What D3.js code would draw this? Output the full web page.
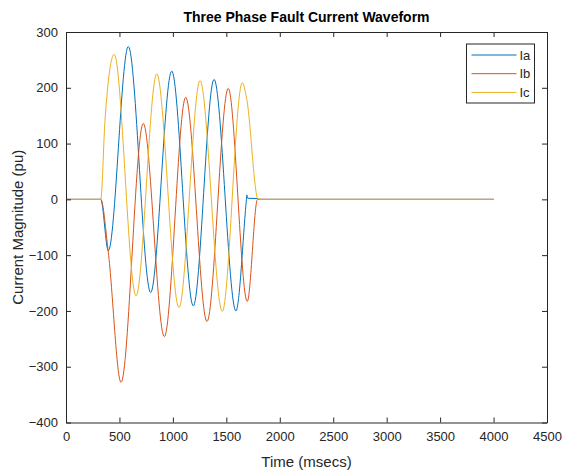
<!DOCTYPE html>
<html>
<head>
<meta charset="utf-8">
<script src="https://cdn.jsdelivr.net/npm/d3@7"></script>
<style>
  html, body { margin: 0; padding: 0; background: #fff; }
  svg { display: block; font-family: "Liberation Sans", Arial, sans-serif; }
</style>
</head>
<body>
<svg id="chart" width="562" height="472"></svg>
<script>
// Readings: [time ms, current pu]
const iaPoints = [[0, 0], [325, 0], [396, -92], [583, 274], [792, -167], [989, 230], [1191, -191],
  [1385, 215], [1590, -200], [1688, 0], [1692, 8], [1700, 2], [1790, 1.5], [1800, 0], [4000, 0]];
const ibPoints = [[0, 0], [325, 0], [396, -95], [515, -328], [723, 136], [920, -246], [1120, 183],
  [1319, -219], [1518, 199], [1696, -183], [1792, 0], [4000, 0]];
const icPoints = [[0, 0], [325, 0], [365, 142], [451, 260], [655, -173], [849, 225], [1057, -194],
  [1254, 213], [1462, -201], [1649, 209], [1690, 181], [1798, 0], [1802, 2], [1810, 0], [4000, 0]];

const seriesNames = ["Ia", "Ib", "Ic"];
const xTicks = [0, 500, 1000, 1500, 2000, 2500, 3000, 3500, 4000, 4500];
const yTicks = [-400, -300, -200, -100, 0, 100, 200, 300];

const colors = ["#0072BD", "#D95319", "#EDB120"];
const W = 562, H = 472;
const m = { top: 32, right: 15, bottom: 49.5, left: 66 };
const iW = W - m.left - m.right;
const iH = H - m.top - m.bottom;
const axisCol = "#262626";

const svg = d3.select("#chart");
const g = svg.append("g").attr("transform", `translate(${m.left},${m.top})`);

const x = d3.scaleLinear().domain([0, 4500]).range([0, iW]);
const y = d3.scaleLinear().domain([-400, 300]).range([iH, 0]);

// Title
svg.append("text")
  .attr("x", m.left + iW / 2).attr("y", 22)
  .attr("text-anchor", "middle")
  .style("font-size", "14px").style("font-weight", "bold").style("fill", "#000")
  .text("Three Phase Fault Current Waveform");

// Lines
const line = d3.line().x(d => x(d[0])).y(d => y(d[1])).curve(d3.curveMonotoneX);
[iaPoints, ibPoints, icPoints].forEach((pts, i) => {
  g.append("path").datum(pts)
    .attr("d", line)
    .attr("fill", "none")
    .attr("stroke", colors[i])
    .attr("stroke-width", 1);
});

// Axes (ticks inward, box on)
const tk = 5;
function styleAxis(ax) {
  ax.select(".domain").attr("stroke", axisCol);
  ax.selectAll(".tick line").attr("stroke", axisCol);
  ax.selectAll(".tick text").style("fill", axisCol).style("font-size", "13px")
    .style("font-family", "'Liberation Sans', Arial, sans-serif");
}
g.append("g").attr("transform", `translate(0,${iH})`)
  .call(d3.axisBottom(x).tickValues(xTicks).tickSize(-tk).tickSizeOuter(0).tickPadding(9).tickFormat(d3.format("d")))
  .call(styleAxis);
g.append("g")
  .call(d3.axisLeft(y).tickValues(yTicks).tickSize(-tk).tickSizeOuter(0).tickPadding(8).tickFormat(d3.format("d")))
  .call(styleAxis);
g.append("g")
  .call(d3.axisTop(x).tickValues(xTicks).tickSize(-tk).tickSizeOuter(0).tickFormat(""))
  .call(styleAxis);
g.append("g").attr("transform", `translate(${iW},0)`)
  .call(d3.axisRight(y).tickValues(yTicks).tickSize(-tk).tickSizeOuter(0).tickFormat(""))
  .call(styleAxis);

// Axis labels
svg.append("text")
  .attr("x", m.left + iW / 2).attr("y", 467)
  .attr("text-anchor", "middle")
  .style("font-size", "15px").style("fill", axisCol)
  .text("Time (msecs)");
svg.append("text")
  .attr("transform", `translate(23,${m.top + iH / 2}) rotate(-90)`)
  .attr("text-anchor", "middle")
  .style("font-size", "15px").style("fill", axisCol)
  .text("Current Magnitude (pu)");

// Legend
const lg = svg.append("g").attr("transform", "translate(466.5,44)");
lg.append("rect").attr("width", 68).attr("height", 59)
  .attr("fill", "#fff").attr("stroke", axisCol).attr("stroke-width", 1);
seriesNames.forEach((name, i) => {
  const yy = 11 + i * 18.7;
  lg.append("line").attr("x1", 5).attr("x2", 50).attr("y1", yy).attr("y2", yy)
    .attr("stroke", colors[i]).attr("stroke-width", 1);
  lg.append("text").attr("x", 53).attr("y", yy).attr("dy", "0.35em")
    .style("font-size", "13px").style("fill", axisCol)
    .text(name);
});
</script>
</body>
</html>
